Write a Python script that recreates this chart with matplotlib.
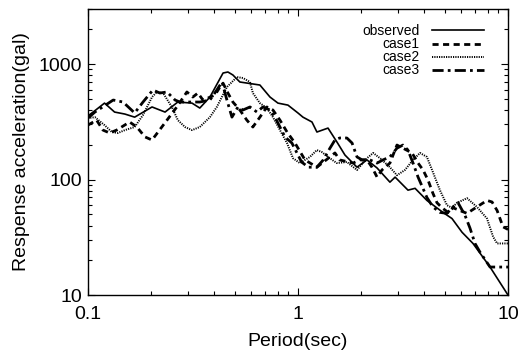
import matplotlib
matplotlib.use("Agg")
import matplotlib.pyplot as plt
from matplotlib.ticker import LogLocator, NullFormatter, FixedLocator, FixedFormatter

plt.rcParams['font.family'] = ['Liberation Sans', 'DejaVu Sans']

# observed spectrum
obs_x = [0.100, 0.109, 0.120, 0.134, 0.150, 0.167, 0.202, 0.233, 0.268, 0.313, 0.341,
         0.381, 0.440, 0.464, 0.490, 0.529, 0.659, 0.736, 0.803, 0.896, 1.0, 1.056,
         1.166, 1.231, 1.39, 1.534, 1.674, 1.91, 2.13, 2.38, 2.74, 2.90, 3.34, 3.61,
         4.11, 4.90, 5.41, 6.04, 6.81, 8.21, 10]
obs_y = [355, 400, 459, 384, 369, 347, 425, 384, 469, 459, 416,
         518, 836, 853, 804, 699, 658, 518, 459, 441, 377, 347,
         315, 258, 279, 211, 163, 128, 148, 126, 95, 105, 81, 84,
         66, 52, 46, 35, 28, 17.5, 10]

# case1
c1_x = [0.100, 0.110, 0.118, 0.127, 0.137, 0.158, 0.171, 0.187, 0.202, 0.238, 0.265,
        0.296, 0.316, 0.334, 0.353, 0.373, 0.403, 0.425, 0.440, 0.464, 0.490, 0.529,
        0.571, 0.610, 0.659, 0.711, 0.760, 0.821, 0.887, 0.968, 1.08, 1.23, 1.42,
        1.50, 1.58, 1.83, 1.97, 2.13, 2.25, 2.38, 2.51, 2.74, 2.96, 3.49, 3.73,
        3.94, 4.16, 4.39, 4.59, 4.85, 5.18, 5.47, 6.38, 7.11, 7.94, 8.39, 8.87, 9.46, 10]
c1_y = [296, 327, 268, 253, 268, 315, 285, 234, 220, 327, 425,
        573, 518, 561, 488, 508, 540, 632, 683, 561, 469, 400,
        327, 285, 347, 425, 400, 327, 258, 207, 148, 128, 157,
        170, 148, 139, 148, 148, 128, 105, 121, 139, 199, 170, 139,
        121, 99, 76, 63, 57, 52, 57, 51, 58, 66, 64, 54, 39, 37]

# case2
c2_x = [0.100, 0.108, 0.120, 0.130, 0.139, 0.150, 0.167, 0.183, 0.202, 0.213, 0.228,
        0.251, 0.268, 0.290, 0.313, 0.341, 0.381, 0.411, 0.459, 0.512, 0.547, 0.591,
        0.610, 0.659, 0.711, 0.760, 0.821, 0.887, 0.947, 1.02, 1.14, 1.23, 1.30,
        1.39, 1.53, 1.71, 1.91, 2.13, 2.28, 2.46, 2.74, 2.96, 3.23, 3.53, 3.81,
        4.11, 4.35, 4.74, 5.12, 5.41, 5.72, 6.38, 7.11, 7.94, 8.49, 8.87, 10]
c2_y = [340, 347, 296, 258, 253, 268, 285, 362, 518, 573, 561,
        425, 327, 285, 268, 285, 347, 425, 632, 771, 757, 699,
        561, 459, 416, 347, 268, 207, 153, 139, 157, 180, 173,
        157, 139, 142, 121, 153, 170, 153, 128, 109, 121, 148, 170,
        157, 121, 81, 60, 57, 63, 69, 58, 46, 32, 28, 28]

# case3
c3_x = [0.100, 0.108, 0.132, 0.147, 0.167, 0.183, 0.204, 0.220, 0.238, 0.260, 0.274,
        0.306, 0.341, 0.381, 0.411, 0.435, 0.459, 0.485, 0.518, 0.547, 0.591, 0.638,
        0.681, 0.736, 0.777, 0.821, 0.867, 0.936, 0.989, 1.04, 1.12, 1.23, 1.32,
        1.42, 1.50, 1.58, 1.71, 1.81, 1.91, 2.02, 2.20, 2.38, 2.54, 2.74, 2.96,
        3.16, 3.34, 3.53, 3.73, 4.11, 4.39, 4.74, 5.12, 5.41, 5.78, 6.24, 6.59,
        6.96, 7.36, 8.21, 10]
c3_y = [340, 384, 488, 469, 377, 469, 596, 561, 573, 488, 469,
        469, 469, 488, 596, 699, 488, 347, 425, 400, 425, 384,
        425, 400, 347, 285, 234, 207, 170, 142, 128, 128, 148,
        187, 220, 229, 229, 207, 157, 148, 148, 139, 148, 157, 187,
        199, 180, 139, 105, 70, 58, 52, 51, 57, 63, 49, 38,
        28, 23.5, 17.5, 17.5]

fig = plt.figure(figsize=(5.2, 3.56), dpi=100)
ax = fig.add_axes([0.169, 0.171, 0.808, 0.804])

ax.plot(obs_x, obs_y, color='black', lw=1.2, ls='-', label='observed')
ax.plot(c1_x, c1_y, color='black', lw=2.0, ls=(0, (2.2, 1.6)), label='case1')
ax.plot(c2_x, c2_y, color='black', lw=1.4, ls=(0, (0.6, 0.6)), label='case2')
ax.plot(c3_x, c3_y, color='black', lw=2.0, ls=(0, (4, 1.5, 1, 1.5)), label='case3')

ax.set_xscale('log')
ax.set_yscale('log')
ax.set_xlim(0.1, 10)
ax.set_ylim(10, 3000)

ax.xaxis.set_major_locator(FixedLocator([0.1, 1, 10]))
ax.xaxis.set_major_formatter(FixedFormatter(['0.1', '1', '10']))
ax.yaxis.set_major_locator(FixedLocator([10, 100, 1000]))
ax.yaxis.set_major_formatter(FixedFormatter(['10', '100', '1000']))
ax.xaxis.set_minor_locator(LogLocator(base=10, subs=range(2, 10)))
ax.yaxis.set_minor_locator(LogLocator(base=10, subs=range(2, 10)))
ax.xaxis.set_minor_formatter(NullFormatter())
ax.yaxis.set_minor_formatter(NullFormatter())

ax.tick_params(which='both', direction='in', top=True, right=True, labelsize=14, width=0.8)
ax.tick_params(which='major', length=5)
ax.tick_params(which='minor', length=3)
ax.tick_params(axis='x', which='major', pad=8)
ax.tick_params(axis='y', which='major', pad=4)
for s in ax.spines.values():
    s.set_linewidth(1.0)

ax.set_xlabel('Period(sec)', fontsize=14, labelpad=7)
ax.set_ylabel('Respense acceleration(gal)', fontsize=14, labelpad=6)

ax.legend(loc='upper right', bbox_to_anchor=(0.988, 1.014), frameon=False,
          markerfirst=False, fontsize=10, handlelength=3.7, handletextpad=0.9,
          labelspacing=-0.07, borderaxespad=1.0)

fig.savefig('out.png', dpi=100)
